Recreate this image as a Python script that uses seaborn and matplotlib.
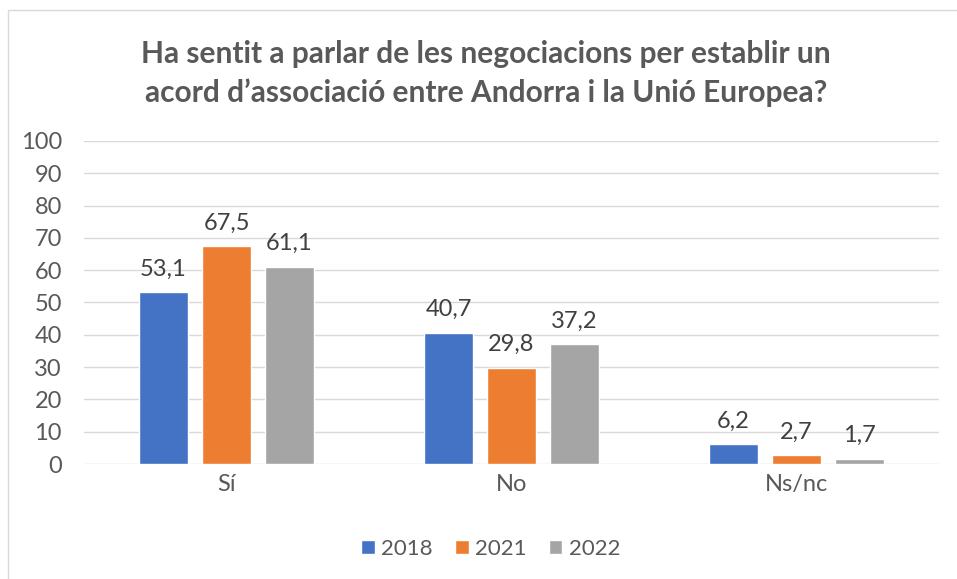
import pandas as pd
import seaborn as sns
import matplotlib.pyplot as plt
from matplotlib.patches import Rectangle

# data
categories = ["Sí", "No", "Ns/nc"]
years = ["2018", "2021", "2022"]
vals_2018 = [53.1, 40.7, 6.2]
vals_2021 = [67.5, 29.8, 2.7]
vals_2022 = [61.1, 37.2, 1.7]
colors = ["#4472C4", "#ED7D31", "#A5A5A5"]
title = "Ha sentit a parlar de les negociacions per establir un\nacord d\u2019associació entre Andorra i la Unió Europea?"

# long format table for seaborn
rows = []
for year, vals in zip(years, [vals_2018, vals_2021, vals_2022]):
    for cat, v in zip(categories, vals):
        rows.append({"cat": cat, "year": year, "value": v})
df = pd.DataFrame(rows)

sns.set_theme(style="white")
plt.rcParams["font.family"] = ["Lato", "DejaVu Sans"]

fig = plt.figure(figsize=(9.57, 5.79), dpi=100)
ax = fig.add_axes([0.0878, 0.1986, 0.8934, 0.5579])

sns.barplot(data=df, x="cat", y="value", hue="year", order=categories,
            hue_order=years, palette=colors, width=0.663, gap=0.21,
            saturation=1, ax=ax, zorder=3)

# value labels above bars
for cont in ax.containers:
    labels = [f"{v:.1f}".replace(".", ",") for v in cont.datavalues]
    ax.bar_label(cont, labels=labels, padding=9, fontsize=17, color="#404040")

ax.set_ylim(0, 100)
ax.set_xlim(-0.5, 2.5)
ax.set_yticks(range(0, 101, 10))
ax.yaxis.grid(True, color="#D9D9D9", linewidth=1)
ax.set_axisbelow(True)
for s in ax.spines.values():
    s.set_visible(False)
ax.set_xlabel("")
ax.set_ylabel("")
ax.tick_params(axis="y", length=0, pad=16, labelsize=17, labelcolor="#595959")
ax.tick_params(axis="x", length=0, pad=7, labelsize=17, labelcolor="#595959")

ax.legend(loc="center", bbox_to_anchor=(0.513, 0.052), bbox_transform=fig.transFigure,
          ncol=3, frameon=False, fontsize=16, handlelength=0.6, handleheight=0.6,
          handletextpad=0.3, columnspacing=1.0, labelcolor="#595959")

fig.text(0.508, 0.873, title, ha="center", va="center", fontsize=21.5,
         fontweight="bold", color="#595959", linespacing=1.4)

# light chart border
fig.patches.append(Rectangle((0.0084, -0.1), 1.2, 1.0827, transform=fig.transFigure,
                             fill=False, edgecolor="#D9D9D9", linewidth=1))

fig.savefig("out.png", dpi=100)
